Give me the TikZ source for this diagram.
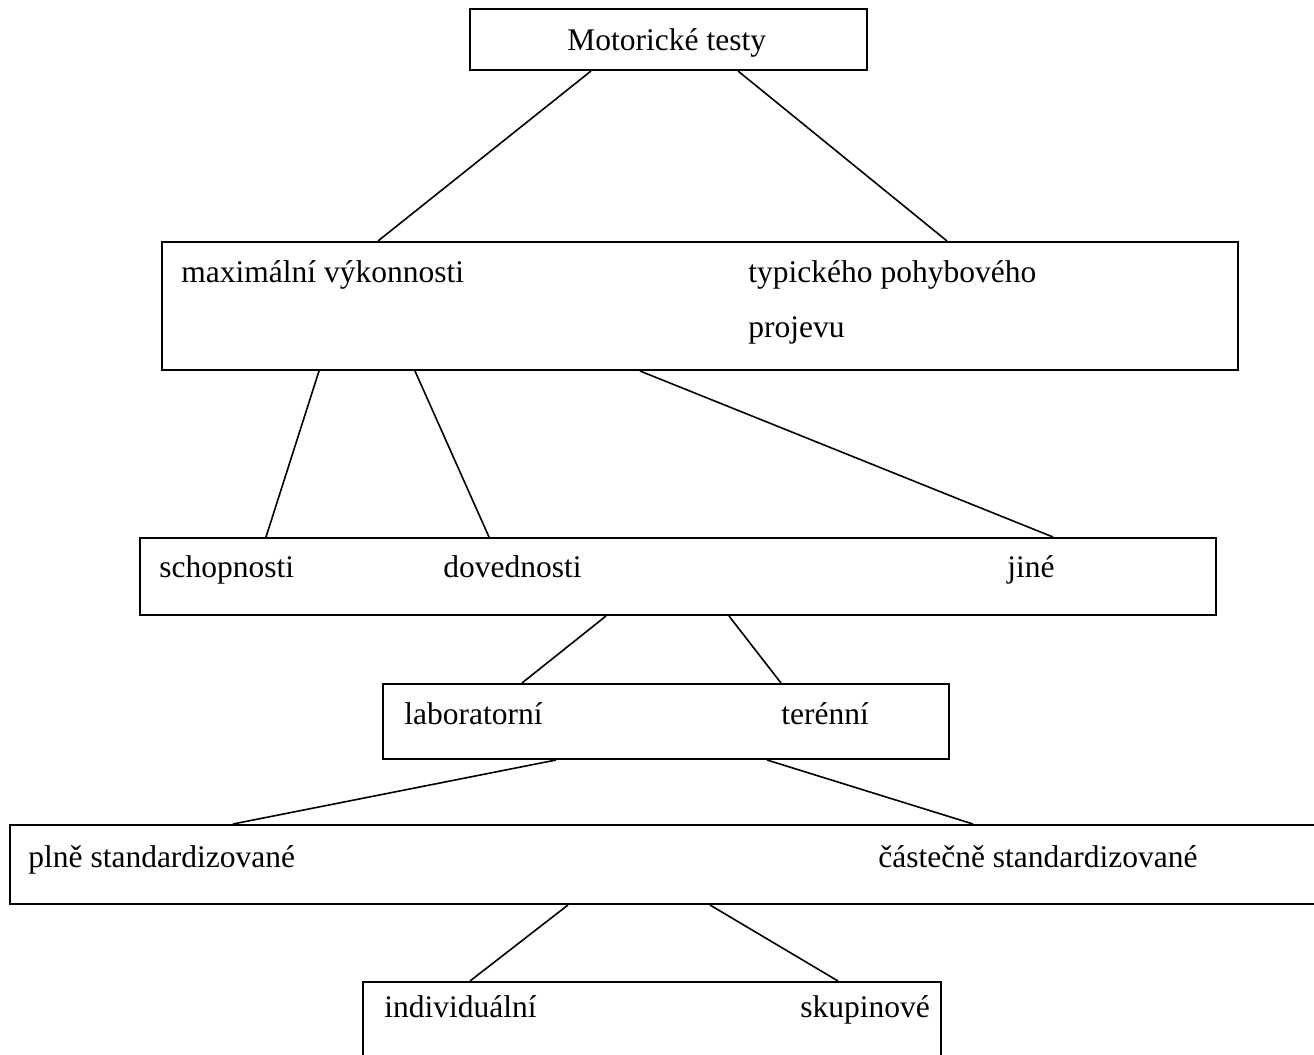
\documentclass[tikz,border=0pt]{standalone}
\usepackage{fontspec}
\setmainfont{Liberation Serif}
\begin{document}
\begin{tikzpicture}[x=0.5pt,y=-0.5pt,
  box/.style={draw,line width=1pt,inner sep=0pt,anchor=north west},
  lbl/.style={anchor=base west,inner sep=0pt,font=\fontsize{15.75}{19}\selectfont},
  conn/.style={line width=0.8pt}]
\useasboundingbox (0,0) rectangle (1314,1055);
% boxes
\node[box,minimum width=198.5pt,minimum height=30.5pt] (b1) at (469,8) {};
\node[box,minimum width=538pt,minimum height=64pt] (b2) at (161,241) {};
\node[box,minimum width=538pt,minimum height=38.5pt] (b3) at (139,537) {};
\node[box,minimum width=283pt,minimum height=37.5pt] (b4) at (382,683) {};
\node[box,minimum width=653.5pt,minimum height=39.5pt] (b5) at (9,824) {};
\node[box,minimum width=289pt,minimum height=40pt] (b6) at (362,981) {};
% texts
\node[lbl] (t1) at (567,50) {Motorické testy};
\node[lbl] (t2a) at (181,282) {maximální výkonnosti};
\node[lbl] (t2b) at (748,282) {typického pohybového};
\node[lbl] (t2c) at (748,337) {projevu};
\node[lbl] (t3a) at (159,577) {schopnosti};
\node[lbl] (t3b) at (443,577) {dovednosti};
\node[lbl] (t3c) at (1007,577) {jiné};
\node[lbl] (t4a) at (404,724) {laboratorní};
\node[lbl] (t4b) at (781,724) {terénní};
\node[lbl] (t5a) at (28,867) {plně standardizované};
\node[lbl] (t5b) at (878,867) {částečně standardizované};
\node[lbl] (t6a) at (384,1017) {individuální};
\node[lbl] (t6b) at (800,1017) {skupinové};
% connectors
\draw[conn] ([xshift=61pt]b1.south west) -- ([xshift=108.5pt]b2.north west);
\draw[conn] ([xshift=134.5pt]b1.south west) -- ([xshift=393pt]b2.north west);
\draw[conn] ([xshift=79pt]b2.south west) -- ([xshift=63.5pt]b3.north west);
\draw[conn] ([xshift=127pt]b2.south west) -- ([xshift=175pt]b3.north west);
\draw[conn] ([xshift=239.5pt]b2.south west) -- ([xshift=457pt]b3.north west);
\draw[conn] ([xshift=233.5pt]b3.south west) -- ([xshift=70pt]b4.north west);
\draw[conn] ([xshift=295pt]b3.south west) -- ([xshift=199.5pt]b4.north west);
\draw[conn] ([xshift=87pt]b4.south west) -- ([xshift=112pt]b5.north west);
\draw[conn] ([xshift=192.5pt]b4.south west) -- ([xshift=482pt]b5.north west);
\draw[conn] ([xshift=279.5pt]b5.south west) -- ([xshift=54pt]b6.north west);
\draw[conn] ([xshift=350.5pt]b5.south west) -- ([xshift=238pt]b6.north west);
\end{tikzpicture}
\end{document}
